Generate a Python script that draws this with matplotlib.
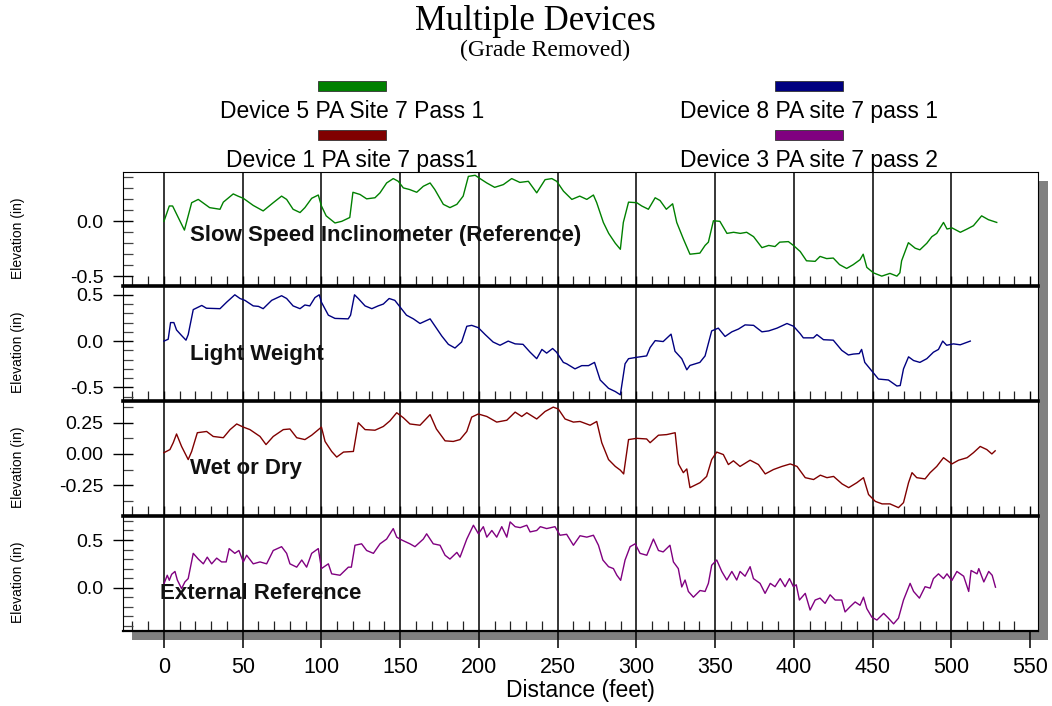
import matplotlib
matplotlib.use('Agg')
import matplotlib.pyplot as plt
from matplotlib.patches import Rectangle
from matplotlib.ticker import MultipleLocator, FormatStrFormatter

# distance (feet) / elevation (in)
sl_x = [0, 3.4, 5.5, 13, 17.6, 21.8, 29, 35.6, 37.7, 44, 47, 50.4, 56.7, 63, 69.4, 74.7, 77.9, 82, 86.4, 89.5,
        93.8, 98, 100, 103, 108.6, 112.9, 118, 120, 124.5, 128.7, 134, 137.2, 141.4, 145.6, 148.8, 152, 156,
        160.5, 164.7, 169, 172, 177.4, 181.6, 186, 190, 193.3, 197.6, 200.7, 205, 210, 215.5, 220.8, 226,
        231.4, 236.7, 242, 246.3, 249.4, 253.7, 259, 264, 268.5, 272.7, 274.8, 279, 282.4, 286.6, 289.8,
        291.7, 295, 300.2, 303.4, 307.6, 311.9, 315, 319, 323, 325.6, 329.8, 334, 340.3, 343.6, 345.7, 348.9,
        353, 357.5, 361.7, 366, 370, 374.4, 379.7, 384, 388, 391, 396.5, 399.7, 404, 408, 413.5, 416.6, 420.8,
        425, 429, 433.5, 437.7, 442, 444, 446.3, 450.5, 455.8, 461, 465.4, 467.3, 468.4, 472.7, 477, 480,
        484.4, 487.6, 490.7, 495, 497.2, 500.4, 505.7, 510, 514, 519.2, 523.5, 528.8]
sl_y = [0.0, 0.14, 0.14, -0.08, 0.17, 0.2, 0.125, 0.11, 0.175, 0.25, 0.23, 0.21, 0.145, 0.095, 0.17, 0.23, 0.2,
        0.11, 0.08, 0.125, 0.21, 0.24, 0.14, 0.05, -0.015, 0.0, 0.035, 0.265, 0.245, 0.205, 0.215, 0.26, 0.35,
        0.39, 0.365, 0.305, 0.29, 0.265, 0.32, 0.35, 0.29, 0.155, 0.125, 0.155, 0.23, 0.41, 0.42, 0.39, 0.35,
        0.31, 0.335, 0.39, 0.355, 0.365, 0.26, 0.38, 0.39, 0.365, 0.275, 0.2, 0.23, 0.2, 0.24, 0.17, -0.01,
        -0.11, -0.2, -0.255, -0.01, 0.175, 0.17, 0.14, 0.11, 0.215, 0.19, 0.11, 0.16, -0.01, -0.16, -0.3,
        -0.29, -0.22, -0.19, 0.005, 0.0, -0.11, -0.1, -0.11, -0.1, -0.14, -0.24, -0.22, -0.23, -0.19, -0.185,
        -0.22, -0.275, -0.36, -0.365, -0.32, -0.34, -0.335, -0.395, -0.43, -0.395, -0.35, -0.3, -0.42, -0.47,
        -0.5, -0.475, -0.5, -0.47, -0.36, -0.195, -0.245, -0.26, -0.2, -0.14, -0.11, -0.01, -0.07, -0.06,
        -0.1, -0.07, -0.04, 0.05, 0.015, -0.01]

lw_x = [0, 2.7, 4.2, 6.3, 8, 11.2, 14, 15.4, 18.6, 24, 27, 35.6, 39.8, 45, 48.3, 51.4, 56.7, 60, 63, 68.4, 74.7,
        77.9, 82, 86.4, 89.5, 92.6, 95.9, 98.6, 100, 104.4, 108.6, 117, 118.5, 121, 123.4, 127.7, 132, 136,
        139.3, 143, 146.6, 149.8, 154, 158.4, 162.6, 169, 171, 176.4, 180.6, 184.8, 189, 192.3, 195.4, 199.6,
        204, 209, 213.4, 218.6, 223, 228, 232.5, 236.7, 240, 243, 246.8, 249.3, 253.6, 255.7, 261, 265.3,
        269.6, 273.4, 277, 282.3, 286.6, 289.8, 292.8, 295, 300.2, 306.5, 308.7, 311.9, 317, 322, 324.5,
        328.8, 332, 334, 340.3, 343.6, 347.8, 352, 356.3, 360.6, 364.8, 369, 374.4, 379.7, 384, 389.3, 395.6,
        399.8, 404, 406, 412.4, 414.6, 418.8, 425, 430.4, 434.6, 437.8, 441.5, 443, 445, 448.4, 453.7, 460,
        465.4, 467.5, 469.6, 472.8, 476, 480, 484.4, 488.6, 491.8, 494.5, 497, 501.3, 505.6, 508.8, 512]
lw_y = [0.0, 0.02, 0.2, 0.2, 0.12, 0.06, 0.01, 0.07, 0.34, 0.385, 0.355, 0.35, 0.42, 0.5, 0.46, 0.44, 0.38,
        0.375, 0.35, 0.44, 0.49, 0.46, 0.38, 0.35, 0.39, 0.38, 0.47, 0.5, 0.42, 0.28, 0.245, 0.24, 0.28, 0.5,
        0.46, 0.38, 0.35, 0.38, 0.4, 0.46, 0.44, 0.37, 0.28, 0.24, 0.19, 0.24, 0.19, 0.055, -0.035, -0.075,
        -0.01, 0.16, 0.17, 0.145, 0.07, -0.01, -0.045, 0.0, -0.03, -0.035, -0.12, -0.19, -0.09, -0.13, -0.08,
        -0.12, -0.23, -0.245, -0.3, -0.265, -0.265, -0.23, -0.42, -0.51, -0.545, -0.58, -0.245, -0.19, -0.175,
        -0.16, -0.07, 0.005, -0.005, 0.075, -0.11, -0.19, -0.31, -0.263, -0.23, -0.16, 0.11, 0.14, 0.05, 0.1,
        0.13, 0.175, 0.17, 0.1, 0.11, 0.14, 0.19, 0.16, 0.08, 0.035, 0.035, 0.07, 0.015, 0.01, -0.1, -0.15,
        -0.14, -0.135, -0.09, -0.23, -0.3, -0.41, -0.42, -0.485, -0.48, -0.3, -0.17, -0.21, -0.23, -0.19,
        -0.12, -0.09, 0.0, -0.045, -0.03, -0.04, -0.02, 0.0]

wd_x = [0, 3.8, 5.9, 8, 11.2, 15.4, 17.6, 21.2, 27.1, 31.3, 37.7, 42, 46.2, 50.4, 54.6, 61, 64.8, 69.4, 75.8, 80,
        84.3, 89.5, 93.8, 100, 102.3, 106.5, 109.7, 114, 120.3, 123.4, 127.7, 134, 139.3, 143.5, 147.8, 152,
        156.2, 162.6, 169, 173, 178.5, 183.7, 188, 192.3, 195.4, 199.6, 205, 211.3, 217.7, 223, 227.2, 230.4,
        236.7, 242, 247.2, 250.4, 254.7, 260, 264.2, 270.6, 274.8, 278, 282.3, 286.6, 289.8, 291.9, 295,
        300.2, 306.5, 308.7, 314, 319.3, 324.6, 326.7, 329.8, 332, 334, 340.4, 344.6, 347.8, 351, 355.2,
        358.4, 361.6, 365.8, 372.2, 377.5, 381.8, 387, 392.4, 397.7, 402, 407.2, 412.5, 416.8, 421, 425.2,
        430.6, 434.8, 440, 444.2, 447.4, 451.7, 456, 461, 466.4, 469.6, 472.8, 475, 478, 483.3, 486.5, 490.7,
        495, 500.3, 504.6, 510, 514, 518.3, 522.5, 525.7, 527.8]
wd_y = [0.01, 0.035, 0.09, 0.16, 0.06, -0.045, 0.02, 0.17, 0.18, 0.14, 0.13, 0.195, 0.24, 0.215, 0.195, 0.14,
        0.075, 0.14, 0.195, 0.2, 0.13, 0.115, 0.15, 0.215, 0.1, 0.02, -0.025, 0.015, 0.02, 0.25, 0.195, 0.19,
        0.22, 0.265, 0.33, 0.29, 0.24, 0.23, 0.315, 0.2, 0.105, 0.1, 0.115, 0.18, 0.295, 0.32, 0.3, 0.255,
        0.27, 0.335, 0.3, 0.33, 0.28, 0.34, 0.375, 0.36, 0.28, 0.255, 0.26, 0.23, 0.26, 0.09, -0.045, -0.1,
        -0.13, -0.16, 0.115, 0.125, 0.12, 0.09, 0.15, 0.155, 0.17, -0.08, -0.15, -0.12, -0.27, -0.23, -0.18,
        -0.045, 0.015, -0.005, -0.085, -0.055, -0.1, -0.05, -0.085, -0.16, -0.125, -0.1, -0.08, -0.1, -0.19,
        -0.205, -0.17, -0.19, -0.18, -0.24, -0.27, -0.23, -0.19, -0.325, -0.38, -0.4, -0.4, -0.43, -0.39,
        -0.23, -0.15, -0.19, -0.2, -0.15, -0.1, -0.03, -0.08, -0.05, -0.03, 0.01, 0.06, 0.035, 0.0, 0.025]

ext_x = [0, 2.1, 3.4, 4.9, 7, 8.5, 11.2, 13.3, 15.4, 18.6, 21.8, 25, 27.5, 30.3, 33.5, 36.6, 39.5, 41.4, 45, 47.6,
         50.4, 52.5, 56.7, 61, 65.2, 69.4, 74.7, 77.9, 80, 84.3, 87.5, 90.6, 93.8, 98, 100, 104.4, 106.5, 111.8,
         117.1, 119, 121.3, 125.5, 128.7, 133, 137.2, 141.4, 145.6, 147.8, 151, 156.2, 159.4, 164.7, 166.8,
         171, 175.3, 178.5, 181.6, 186, 188, 192.3, 196.5, 199.7, 202.8, 205, 208.2, 211.3, 214.5, 217.7,
         219.8, 223, 226.2, 230.4, 232.5, 236.7, 239, 243, 248.3, 251.5, 255.7, 260, 264.2, 268.5, 272.7,
         275.9, 278.7, 282.3, 285.4, 287.6, 290, 292.8, 296, 299.2, 302.3, 306.6, 310.8, 314, 317, 321.3,
         323.5, 326.6, 328.8, 330.9, 333, 336.2, 340.4, 343.6, 345.7, 347.8, 351, 354.2, 357.4, 360.6, 363.7,
         365.8, 369, 372.2, 374.3, 378.5, 381.7, 385, 388, 391.3, 394.4, 397.2, 399.7, 401.5, 403.5, 407.2,
         410.3, 413.5, 416.6, 419.8, 423, 426.2, 430.4, 432.5, 435.7, 438.9, 442, 444.2, 446.3, 449.5, 452.7,
         457, 460, 463.3, 466.4, 469.6, 473.8, 476, 479.7, 483.3, 486.5, 488.6, 491.8, 495, 497.2, 500.3,
         503.5, 507.8, 511, 512.5, 516.3, 517.4, 520.6, 523.7, 525.9, 528]
ext_y = [0.04, 0.13, 0.077, 0.14, 0.17, 0.08, -0.01, 0.06, 0.095, 0.36, 0.3, 0.25, 0.32, 0.25, 0.31, 0.27, 0.27,
         0.41, 0.36, 0.39, 0.27, 0.34, 0.25, 0.27, 0.25, 0.39, 0.43, 0.36, 0.25, 0.215, 0.29, 0.215, 0.36, 0.41,
         0.2, 0.25, 0.145, 0.13, 0.215, 0.215, 0.445, 0.46, 0.39, 0.36, 0.46, 0.51, 0.62, 0.53, 0.5, 0.46, 0.43,
         0.51, 0.565, 0.46, 0.445, 0.34, 0.3, 0.37, 0.32, 0.51, 0.655, 0.565, 0.64, 0.53, 0.6, 0.53, 0.64, 0.53,
         0.69, 0.64, 0.63, 0.655, 0.585, 0.6, 0.64, 0.62, 0.64, 0.55, 0.56, 0.445, 0.545, 0.53, 0.55, 0.445,
         0.29, 0.22, 0.2, 0.13, 0.077, 0.29, 0.43, 0.46, 0.36, 0.34, 0.51, 0.39, 0.375, 0.445, 0.27, 0.2, 0.007,
         0.08, -0.04, -0.1, -0.03, -0.04, 0.045, 0.235, 0.29, 0.17, 0.08, 0.17, 0.08, 0.17, 0.12, 0.22, 0.095,
         0.045, -0.06, 0.045, 0.01, 0.095, 0.01, 0.095, 0.01, 0.03, -0.13, -0.06, -0.235, -0.13, -0.11, -0.165,
         -0.075, -0.13, -0.13, -0.255, -0.2, -0.15, -0.185, -0.1, -0.22, -0.31, -0.34, -0.27, -0.32, -0.38,
         -0.32, -0.13, 0.045, -0.04, -0.11, 0.01, -0.005, 0.095, 0.145, 0.095, 0.145, 0.075, 0.17, 0.12, -0.04,
         0.18, 0.145, 0.2, 0.06, 0.17, 0.13, 0.005]

panel_names = ['Slow Speed Inclinometer (Reference)', 'Light Weight', 'Wet or Dry', 'External Reference']
legend_names = ['Device 5 PA Site 7 Pass 1', 'Device 1 PA site 7 pass1',
                'Device 8 PA site 7 pass 1', 'Device 3 PA site 7 pass 2']

plt.rcParams['font.family'] = ['Liberation Sans', 'DejaVu Sans']
plt.rcParams['axes.unicode_minus'] = False

W, H = 1052, 706
fig = plt.figure(figsize=(W / 100, H / 100), dpi=100)


def box(l, t, r, b):
    return [l / W, 1 - b / H, (r - l) / W, (b - t) / H]


# drop shadow and white plotting area
fig.patches.append(Rectangle((132 / W, 1 - 640 / H), 916 / W, 459 / H, transform=fig.transFigure,
                             facecolor='#808080', edgecolor='none', zorder=-2))
fig.patches.append(Rectangle((123 / W, 1 - 631 / H), 915 / W, 459 / H, transform=fig.transFigure,
                             facecolor='white', edgecolor='none', zorder=-1))

series = [(sl_x, sl_y), (lw_x, lw_y), (wd_x, wd_y), (ext_x, ext_y)]
colors = ['#008000', '#000080', '#800000', '#800080']
edges = [(172, 286), (286, 401), (401, 516), (516, 631)]
ylims = [(-0.59, 0.45), (-0.647, 0.595), (-0.497, 0.424), (-0.455, 0.752)]
ysteps = [(0.5, 0.1), (0.5, 0.1), (0.25, 0.125), (0.5, 0.1)]
yfmts = ['%.1f', '%.1f', '%.2f', '%.1f']
name_pos = [(16.5, -0.125), (16.5, -0.147), (16.5, -0.12), (-2.5, -0.066)]

for i in range(4):
    top, bot = edges[i]
    ax = fig.add_axes(box(123, top, 1038, bot))
    ax.patch.set_visible(False)
    x, y = series[i]
    ax.plot(x, y, color=colors[i], lw=1.0, zorder=3)
    for v in range(0, 501, 50):
        ax.axvline(v, color='black', lw=1.1, zorder=2)
    ax.set_xlim(-26, 555)
    ax.set_ylim(*ylims[i])
    ax.xaxis.set_major_locator(MultipleLocator(50))
    ax.xaxis.set_minor_locator(MultipleLocator(10))
    ax.yaxis.set_major_locator(MultipleLocator(ysteps[i][0]))
    ax.yaxis.set_minor_locator(MultipleLocator(ysteps[i][1]))
    ax.yaxis.set_major_formatter(FormatStrFormatter(yfmts[i]))
    ax.tick_params(axis='y', which='major', direction='inout', length=14.4, width=1.0,
                   labelsize=14, pad=7)
    ax.tick_params(axis='y', which='minor', direction='in', length=7.2, width=0.9, color='#444444')
    ax.tick_params(axis='x', which='minor', direction='in', length=7.2, width=0.9, color='#222222')
    if i < 3:
        ax.tick_params(axis='x', which='major', direction='in', length=7.2, width=1.0, labelbottom=False)
        ax.spines['bottom'].set_linewidth(2.6)
    else:
        ax.tick_params(axis='x', which='major', direction='out', length=12.5, width=1.1,
                       labelsize=15.5, pad=6)
        ax.spines['bottom'].set_linewidth(1.6)
    ax.spines['top'].set_visible(i == 0)
    ax.spines['top'].set_linewidth(0.8)
    ax.spines['left'].set_linewidth(0.8)
    ax.spines['right'].set_linewidth(0.8)
    ax.text(name_pos[i][0], name_pos[i][1], panel_names[i], fontsize=16, fontweight='bold',
            color='#111111', ha='left', va='center', zorder=4)
    fig.text(18 / W, 1 - ((top + bot) / 2 + 9) / H, 'Elevation (in)', fontsize=10,
             rotation=90, ha='center', va='center')

fig.text(580 / W, 1 - 690 / H, 'Distance (feet)', fontsize=16.5, ha='center', va='center')

fig.text(535 / W, 1 - 21 / H, 'Multiple Devices', family='Liberation Serif', fontsize=25,
         ha='center', va='center')
fig.text(545 / W, 1 - 50 / H, '(Grade Removed)', family='Liberation Serif', fontsize=17,
         ha='center', va='center')

# legend: colour bar above each label
leg_x = [352, 352, 809, 809]
leg_bar_top = [81, 130, 81, 130]
leg_base = [118, 167, 118, 167]
leg_colors = [colors[0], colors[2], colors[1], colors[3]]
for j in range(4):
    fig.patches.append(Rectangle(((leg_x[j] - 34) / W, 1 - (leg_bar_top[j] + 10) / H), 68 / W, 10 / H,
                                 transform=fig.transFigure, facecolor=leg_colors[j],
                                 edgecolor='#333333', lw=0.6, zorder=1))
    fig.text(leg_x[j] / W, 1 - leg_base[j] / H, legend_names[j], fontsize=16.5,
             ha='center', va='baseline')

fig.savefig('out.png', dpi=100)
